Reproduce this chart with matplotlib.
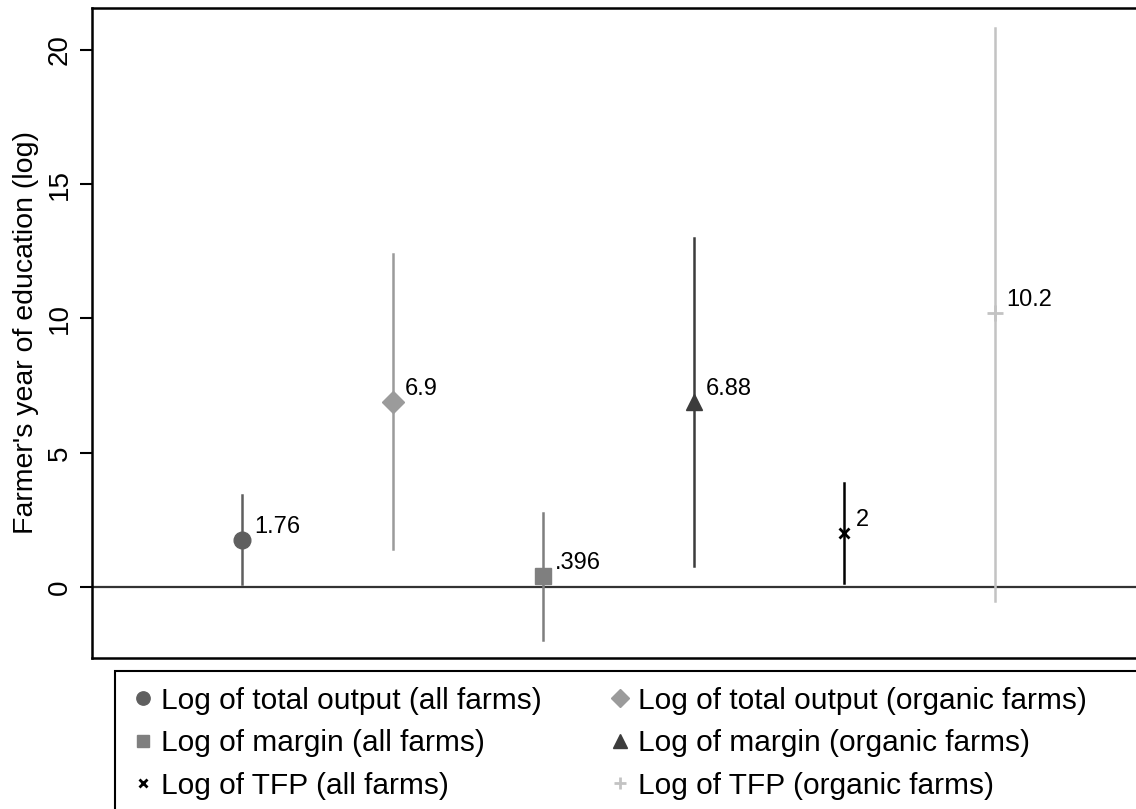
import matplotlib.pyplot as plt
from matplotlib.patches import Rectangle

plt.rcParams['font.family'] = ['Liberation Sans', 'DejaVu Sans']

series = ["Log of total output (all farms)", "Log of total output (organic farms)",
          "Log of margin (all farms)", "Log of margin (organic farms)",
          "Log of TFP (all farms)", "Log of TFP (organic farms)"]
coef = [1.76, 6.9, 0.396, 6.88, 2.0, 10.2]
ci_low = [0.11, 1.42, -1.97, 0.78, 0.15, -0.52]
ci_high = [3.43, 12.40, 2.76, 13.0, 3.87, 20.82]
coef_labels = ["1.76", "6.9", ".396", "6.88", "2", "10.2"]

markers = ['o', 'D', 's', '^', 'x', '+']
msizes = [12, 11, 11, 12, 7, 11]
colors = ['#5f5f5f', '#9b9b9b', '#7f7f7f', '#3c3c3c', '#000000', '#c3c3c3']

W, H = 1136, 809
fig = plt.figure(figsize=(W / 100, H / 100), dpi=100)
ax = fig.add_axes([92 / W, 1 - 658 / H, (1145 - 92) / W, (658 - 8) / H])

ax.axhline(0, color='#333333', lw=1.6, zorder=1)

handles = []
for i, name in enumerate(series):
    x = i + 1
    ax.plot([x, x], [ci_low[i], ci_high[i]], color=colors[i], lw=1.8, zorder=2)
    h, = ax.plot([x], [coef[i]], linestyle='none', marker=markers[i], ms=msizes[i],
                 color=colors[i], mec=colors[i], mew=2 if markers[i] in 'x+' else 1,
                 label=name, zorder=3)
    handles.append(h)
    ax.annotate(coef_labels[i], (x, coef[i]), xytext=(12, 13), textcoords='offset pixels',
                fontsize=17, va='center', ha='left')

ax.set_xlim(0, 7)
ax.set_ylim(-2.64, 21.56)
ax.set_xticks([])
ax.set_yticks([0, 5, 10, 15, 20])
ax.set_yticklabels(['0', '5', '10', '15', '20'], rotation=90, va='center')
ax.tick_params(axis='y', labelsize=20, length=9, width=1.5, pad=5)
ax.set_ylabel("Farmer's year of education (log)", fontsize=20.5, labelpad=3)
ax.yaxis.set_label_coords(-0.05, 0.5)
for s in ['left', 'top', 'bottom']:
    ax.spines[s].set_linewidth(1.8)
ax.spines['right'].set_visible(False)

# legend frame runs past the right and bottom edges of the picture
fig.patches.append(Rectangle((115 / W, -0.05), 1.1, 1 - 671 / H + 0.05,
                             transform=fig.transFigure, fill=False,
                             edgecolor='black', lw=1.5))

order = [0, 2, 4, 1, 3, 5]
fig.legend([handles[k] for k in order], [series[k] for k in order],
           loc='upper left', bbox_to_anchor=(119 / W, 1 - 675 / H),
           ncol=2, fontsize=21.5, frameon=False,
           handlelength=0.8, handletextpad=0.22,
           columnspacing=2.2, labelspacing=0.48, borderpad=0.4,
           borderaxespad=0, markerscale=0.8)

fig.savefig('out.png', dpi=100)
